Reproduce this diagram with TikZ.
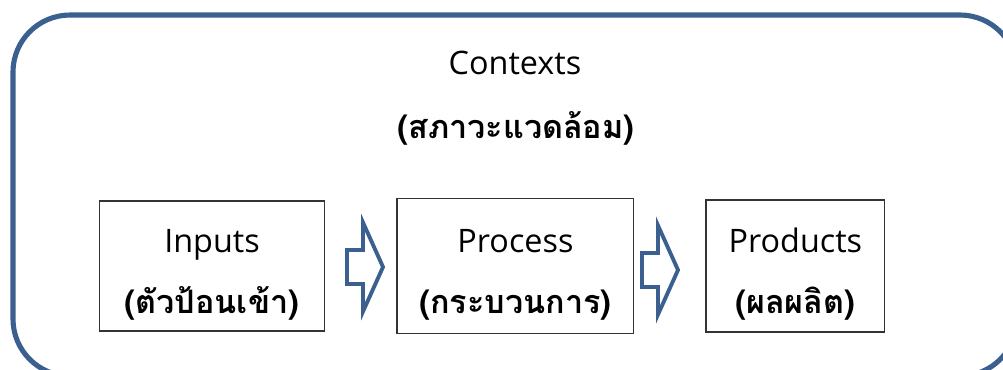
\documentclass[tikz,border=0pt]{standalone}
\usepackage{fontspec}
\setmainfont{Open Sans}
\newfontfamily\thaifont[Script=Thai]{Loma}
\usetikzlibrary{positioning}
\definecolor{frameblue}{HTML}{3B5F8E}
\newcommand\stagegap{\rule{0pt}{11.5pt}}

\begin{document}
\begin{tikzpicture}[x=0.01cm,y=-0.01cm,node distance=0.71cm,
                    frame/.style={draw=frameblue,line width=1.45pt,rounded corners=0.57cm},
                    stage/.style={draw=black!80,line width=0.5pt,align=center,inner sep=0pt,
                                  font=\fontsize{9.2}{17.4}\selectfont},
                    caption/.style={inner sep=0pt,font=\fontsize{9.2}{11}\selectfont},
                    blockarrow/.style={draw=frameblue,line width=1.1pt,line join=miter}]

  \useasboundingbox (0,0) rectangle (1003,369);
  \draw[frame] (13,15) rectangle (1017,376);

  \node[caption] (ctx) at (515,63) {Contexts};
  \node[caption] (ctxth) at (516,128) {\thaifont\bfseries (สภาวะแวดล้อม)};

  \node[stage,minimum width=2.25cm,minimum height=1.30cm] (in) at (212,266) {\stagegap Inputs\\{\thaifont\bfseries (ตัวป้อนเข้า)}};
  \node[stage,minimum width=2.36cm,minimum height=1.35cm] (proc) [right=of in] {\stagegap Process\\{\thaifont\bfseries (กระบวนการ)}};
  \node[stage,minimum width=1.78cm,minimum height=1.32cm] (prod) [right=of proc] {\stagegap Products\\{\thaifont\bfseries (ผลผลิต)}};

  \coordinate (a1) at (347,267);
  \coordinate (a2) at (642,270);
  \foreach \a in {a1,a2}
    \draw[blockarrow] (\a) ++(0,-17) -- ++(16,0) -- ++(0,-27.5) -- ++(20,44.5)
      -- ++(-20,44.5) -- ++(0,-27.5) -- ++(-16,0) -- cycle;
\end{tikzpicture}
\end{document}
